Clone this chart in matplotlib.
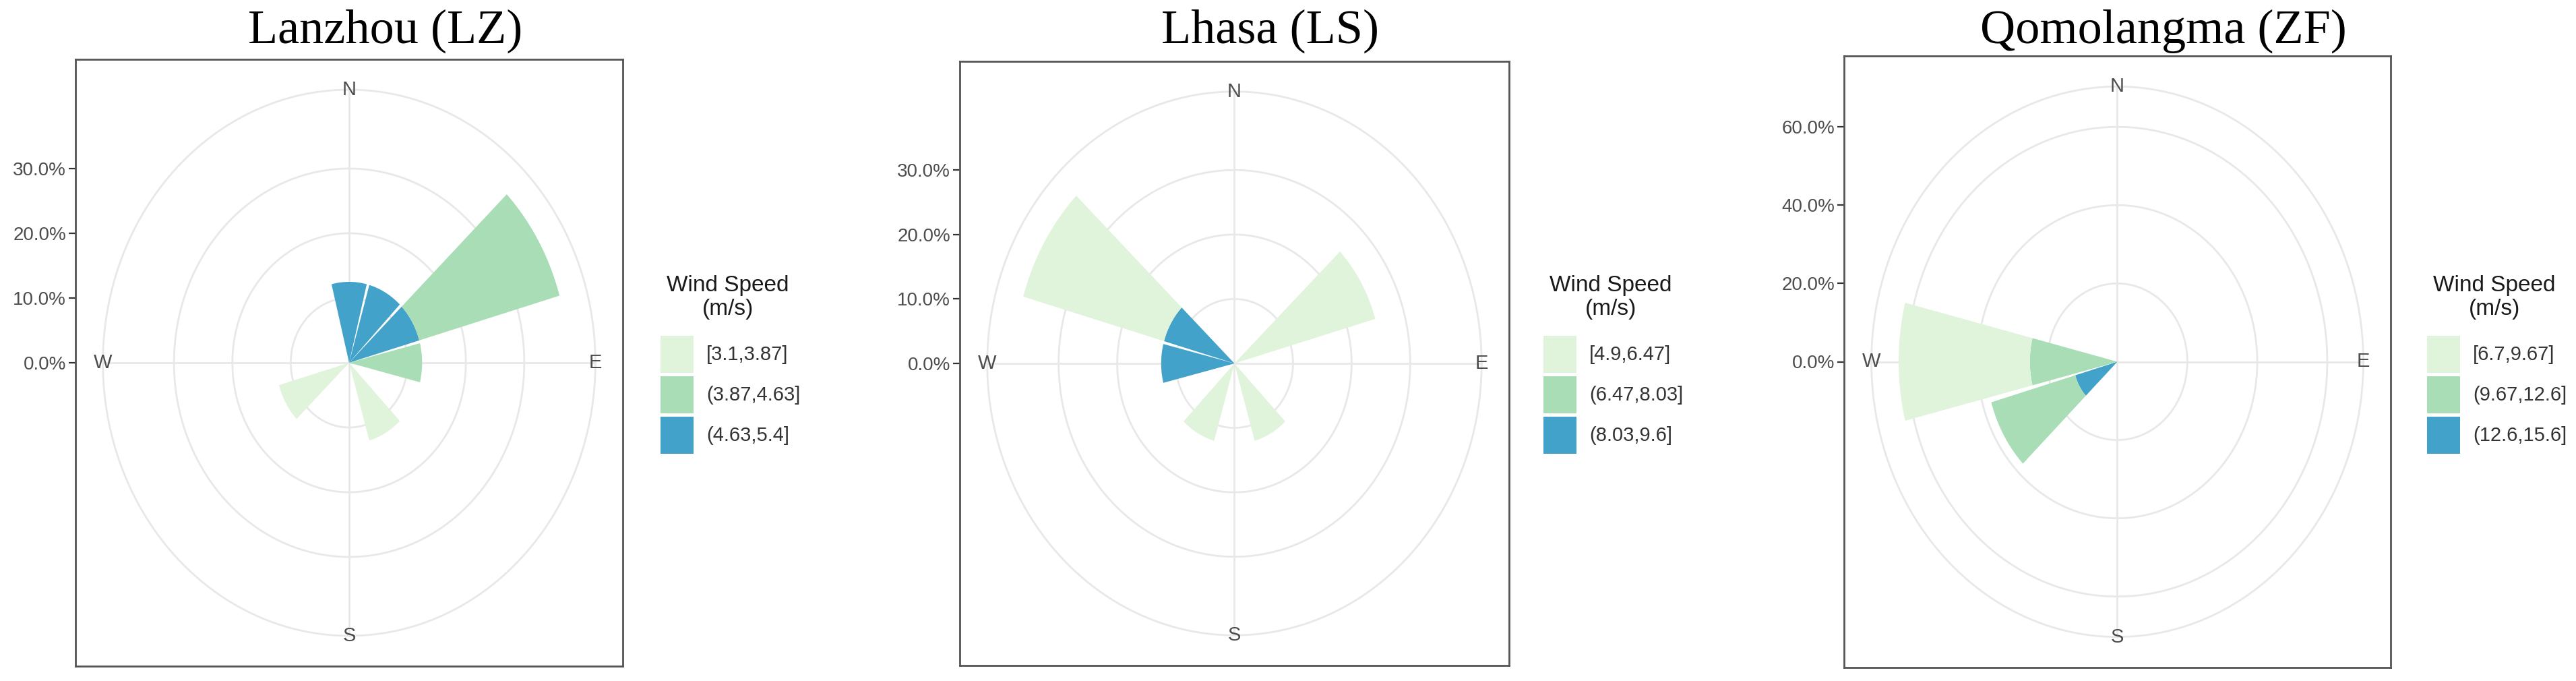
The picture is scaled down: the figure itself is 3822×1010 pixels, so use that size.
import numpy as np
import matplotlib
matplotlib.use("Agg")
import matplotlib.pyplot as plt
from matplotlib.patches import Polygon, Rectangle

# ---------------- data ----------------
sector_deg = [0, 30, 60, 90, 120, 150, 180, 210, 240, 270, 300, 330]
compass_labels = ["N", "E", "S", "W"]
compass_deg = [0, 90, 180, 270]

titles = ["Lanzhou (LZ)", "Lhasa (LS)", "Qomolangma (ZF)"]
legend_title = "Wind Speed\n(m/s)"
lz_bins = ["[3.1,3.87]", "(3.87,4.63]", "(4.63,5.4]"]
ls_bins = ["[4.9,6.47]", "(6.47,8.03]", "(8.03,9.6]"]
zf_bins = ["[6.7,9.67]", "(9.67,12.6]", "(12.6,15.6]"]

# frequency (%) per 30-degree sector, for low / mid / high wind-speed bin
lz_low = [0, 0, 0, 0, 0, 12.5, 0, 0, 12.5, 0, 0, 0]
lz_mid = [0, 0, 25, 12.5, 0, 0, 0, 0, 0, 0, 0, 0]
lz_high = [12.5, 12.5, 12.5, 0, 0, 0, 0, 0, 0, 0, 0, 0]

ls_low = [0, 0, 25, 0, 0, 12.5, 0, 12.5, 0, 0, 25, 0]
ls_mid = [0, 0, 0, 0, 0, 0, 0, 0, 0, 0, 0, 0]
ls_high = [0, 0, 0, 0, 0, 0, 0, 0, 0, 12.5, 12.5, 0]

zf_low = [0, 0, 0, 0, 0, 0, 0, 0, 0, 37.5, 0, 0]
zf_mid = [0, 0, 0, 0, 0, 0, 0, 0, 25, 25, 0, 0]
zf_high = [0, 0, 0, 0, 0, 0, 0, 0, 12.5, 0, 0, 0]

lz_ticks = [0, 10, 20, 30]
ls_ticks = [0, 10, 20, 30]
zf_ticks = [0, 20, 40, 60]

colors = ["#E0F3DB", "#A8DDB5", "#43A2CA"]

# ---------------- layout (pixels) ----------------
W, H, DPI = 3823, 1010, 100
boxes = [(112, 88, 924, 988), (1424, 91, 2239, 987), (2736, 83, 3547, 990)]
title_x = [572, 1885, 3210]
title_base = 64
key_left = [980, 2290, 3601]

SANS = "Liberation Sans"
SERIF = "Liberation Serif"
GRID = "#E8E8E8"
AXTXT = "#4D4D4D"

fig = plt.figure(figsize=(W / DPI, H / DPI), dpi=DPI)
fig.patch.set_facecolor("white")


def fx(x):
    return x / W


def fy(y):
    return 1 - y / H


stations = [
    (titles[0], lz_bins, [lz_low, lz_mid, lz_high], lz_ticks),
    (titles[1], ls_bins, [ls_low, ls_mid, ls_high], ls_ticks),
    (titles[2], zf_bins, [zf_low, zf_mid, zf_high], zf_ticks),
]

BAR_FRAC = 0.93  # fraction of sector covered by a bar

for i, (title, bins, series, ticks) in enumerate(stations):
    x0, y0, x1, y1 = boxes[i]
    ax = fig.add_axes([fx(x0), fy(y1), (x1 - x0) / W, (y1 - y0) / H])
    ax.set_xlim(-0.5, 0.5)
    ax.set_ylim(-0.5, 0.5)
    ax.set_facecolor("white")

    totals = np.sum(np.array(series, dtype=float), axis=0)
    rmax = totals.max()

    def rs(v):
        return 0.4 * v / rmax

    # grid rings
    t = np.linspace(0, 2 * np.pi, 400)
    ring_vals = [rs(v) for v in ticks if v > 0] + [0.45]
    for s in ring_vals:
        ax.plot(s * np.sin(t), s * np.cos(t), color=GRID, lw=2.0, zorder=1)
    # theta grid lines
    for d in compass_deg:
        a = np.radians(d)
        ax.plot([0, 0.45 * np.sin(a)], [0, 0.45 * np.cos(a)], color=GRID, lw=2.0, zorder=1)

    # stacked wedges: highest speed innermost
    width = 30 * BAR_FRAC
    for k, d in enumerate(sector_deg):
        base = 0.0
        for b in [2, 1, 0]:
            v = series[b][k]
            if v <= 0:
                continue
            th = np.radians(np.linspace(d - width / 2, d + width / 2, 80))
            s0, s1 = rs(base), rs(base + v)
            outer = np.column_stack([s1 * np.sin(th), s1 * np.cos(th)])
            inner = np.column_stack([s0 * np.sin(th[::-1]), s0 * np.cos(th[::-1])])
            ax.add_patch(Polygon(np.vstack([outer, inner]), closed=True,
                                 facecolor=colors[b], edgecolor="none", zorder=3))
            base += v

    # compass labels
    for lab, d in zip(compass_labels, compass_deg):
        a = np.radians(d)
        ax.text(0.45 * np.sin(a), 0.45 * np.cos(a), lab, ha="center", va="center",
                fontsize=21, color=AXTXT, family=SANS, zorder=4)

    # r axis on the left
    ax.set_xticks([])
    ax.set_yticks([rs(v) for v in ticks])
    ax.set_yticklabels([f"{v:.1f}%" for v in ticks], fontsize=20, color=AXTXT, family=SANS)
    ax.tick_params(axis="y", length=7, width=1.6, color="#333333", pad=3)
    for sp in ax.spines.values():
        sp.set_color("#555555")
        sp.set_linewidth(2.0)

    # title
    fig.text(fx(title_x[i]), fy(title_base), title, ha="center", va="baseline",
             fontsize=52, family=SERIF, color="black")

    # legend
    kl = key_left[i]
    fig.text(fx(kl + 100), fy(441), legend_title, ha="center", va="center",
             fontsize=24, family=SANS, color="#1A1A1A", linespacing=1.15)
    key_tops = [498, 558, 618]
    for b in range(3):
        kt = key_tops[b]
        fig.add_artist(Rectangle((fx(kl), fy(kt + 55)), 49 / W, 55 / H,
                                 transform=fig.transFigure, facecolor=colors[b],
                                 edgecolor="none"))
        fig.text(fx(kl + 68), fy(kt + 27.5), bins[b], ha="left", va="center",
                 fontsize=21, family=SANS, color="#333333")

fig.savefig("out.png", dpi=DPI, facecolor="white")
